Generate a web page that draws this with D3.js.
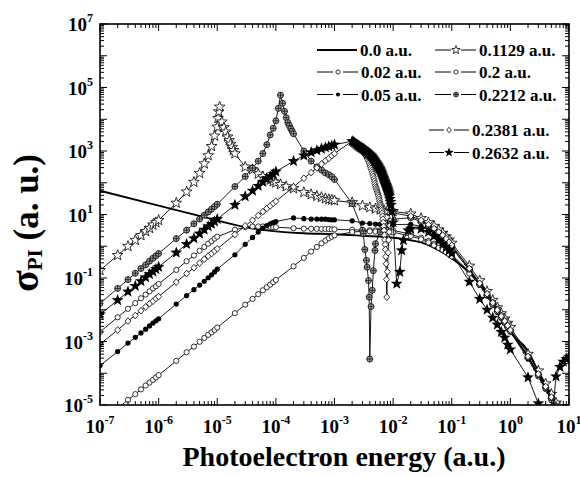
<!DOCTYPE html>
<html><head><meta charset="utf-8">
<script src="https://cdn.jsdelivr.net/npm/d3@7"></script>
<style>body{margin:0;background:#fff}</style>
</head><body>
<svg id="chart" width="580" height="477"></svg>
<script>
// ---------------- DATA ----------------
const xTickExps = [-7,-6,-5,-4,-3,-2,-1,0,1];
const yTickExps = [-5,-3,-1,1,3,5,7];
const legendLabels = ["0.0 a.u.","0.02 a.u.","0.05 a.u.","0.1129 a.u.","0.2 a.u.","0.2212 a.u.","0.2381 a.u.","0.2632 a.u."];

const energyGrid = [
 1e-7,2e-7,3e-7,4e-7,5e-7,6e-7,7e-7,8e-7,9e-7,
 1e-6,2e-6,3e-6,4e-6,5e-6,6e-6,7e-6,8e-6,9e-6,
 1e-5,2e-5,3e-5,4e-5,5e-5,6e-5,7e-5,8e-5,9e-5,
 1e-4,2e-4,3e-4,4e-4,5e-4,6e-4,7e-4,8e-4,9e-4,
 1e-3,2e-3,3e-3,4e-3,5e-3,6e-3,7e-3,8e-3,9e-3,
 1e-2,2e-2,3e-2,4e-2,5e-2,6e-2,7e-2,8e-2,9e-2,
 0.1,0.2,0.3,0.4,0.5,0.6,0.7,0.8,0.9,
 1,2,3,4,5,6,7,8,9,10];

// 0.0 a.u. (solid line, no symbols)
const energy_000 = [1e-7,1e-6,1e-5,3e-5,1e-4,3e-4,1e-3,3e-3,1e-2,2e-2,3e-2,5e-2,0.1,0.2,0.3,0.5,0.7,1,2,3,5,7];
const sigma_000  = [56,19,6.5,4.0,2.95,2.57,2.4,2.14,1.86,1.55,1.32,0.89,0.42,0.148,0.068,0.0178,6.3e-3,2.0e-3,5.0e-4,1.12e-4,2.0e-5,6.3e-6];

// values on energyGrid (null = no point)
const sigma_002 = [
 2.0e-3,5.8e-3,1.07e-2,1.62e-2,2.3e-2,3.0e-2,3.8e-2,4.7e-2,5.5e-2,
 0.065,0.18,0.34,0.51,0.72,0.95,1.2,1.45,1.74,
 2.0,3.3,4.0,4.2,4.2,4.2,4.1,4.1,4.0,
 4.0,3.7,3.6,3.55,3.55,3.5,3.5,3.5,3.4,
 3.4,3.3,3.2,3.2,3.16,3.16,3.16,3.16,3.16,
 3.16,2.4,1.86,1.48,1.2,1.0,0.85,0.72,0.63,
 0.54,0.158,0.068,0.035,0.019,0.012,7.6e-3,5.0e-3,3.4e-3,
 2.4e-3,3.5e-4,8.9e-5,3.5e-5,1.58e-5,7.9e-6,null,null,null,null];

const sigma_005 = [
 1.74e-4,4.8e-4,8.9e-4,1.35e-3,1.86e-3,2.45e-3,3.1e-3,3.8e-3,4.5e-3,
 5.2e-3,0.0151,0.028,0.043,0.06,0.079,0.102,0.126,0.155,
 0.19,0.54,1.15,1.9,2.8,3.7,4.5,5.1,5.6,
 6.0,7.8,7.4,7.2,7.2,7.1,7.1,6.9,6.8,
 6.8,6.3,5.4,5.2,5.0,4.9,4.8,4.7,4.7,
 4.8,4.9,4.2,3.3,2.6,2.1,1.66,1.35,1.12,
 0.89,0.178,0.059,0.027,0.0141,8.3e-3,5.4e-3,3.7e-3,2.7e-3,
 2.0e-3,2.8e-4,7.9e-5,3.2e-5,1.41e-5,6.3e-6,null,null,null,null];

const sigma_01129 = [
 0.174,0.52,1.0,1.55,2.2,2.95,3.7,4.7,5.6,
 6.6,23,52,105,200,400,720,1410,3000,
 5750,830,316,263,190,158,138,123,110,
 100,66,50,43,38,35,32,30,29,
 27.5,24,19,16.6,15.1,14.1,13.5,13.2,12.9,
 12.6,10.5,7.6,5.6,4.3,3.3,2.6,2.0,1.58,
 1.26,0.24,0.083,0.038,0.02,0.0117,7.6e-3,5.2e-3,3.8e-3,
 2.8e-3,4.0e-4,1.2e-4,4.7e-5,2.2e-5,1.17e-5,6.3e-6,null,null,null];
const extraE_01129 = [1.03e-5,1.06e-5,1.1e-5,1.2e-5,1.3e-5,1.4e-5,1.5e-5,1.6e-5,1.7e-5,1.8e-5,1.9e-5,1.2e-4,1.5e-4];
const extraS_01129 = [10700,17400,24500,8300,5500,4000,2800,2140,1660,1320,1050,89,76];

const sigma_02 = [
 null,7.8e-6,1.45e-5,2.2e-5,3.1e-5,4.1e-5,5.1e-5,6.2e-5,7.4e-5,
 8.7e-5,2.45e-4,4.6e-4,6.9e-4,9.8e-4,1.29e-3,1.62e-3,1.95e-3,2.3e-3,
 2.75e-3,7.8e-3,1.45e-2,2.2e-2,3.1e-2,4.1e-2,5.1e-2,6.2e-2,7.4e-2,
 0.087,0.234,0.43,0.68,0.95,1.23,1.51,1.78,2.0,
 2.2,2.8,2.95,2.95,2.9,2.9,2.9,2.8,2.8,
 2.75,2.1,1.66,1.32,1.07,0.89,0.76,0.65,0.56,
 0.48,0.138,0.06,0.032,0.0174,0.0107,6.8e-3,4.5e-3,3.0e-3,
 2.1e-3,3.2e-4,7.9e-5,3.2e-5,1.41e-5,7.1e-6,null,null,null,null];

const sigma_02212 = [
 0.0158,0.047,0.089,0.141,0.2,0.26,0.34,0.42,0.5,
 0.59,1.74,3.2,5.1,7.2,9.5,12,14.8,17.8,
 21,76,158,290,480,830,1580,3200,5200,
 8900,3500,1000,480,316,250,204,178,155,
 126,22,3.2,2.8e-4,1.2,2.8,4.2,5.4,6.3,
 7.1,7.9,5.9,4.4,3.3,2.6,2.0,1.58,1.26,
 1.0,0.19,0.063,0.029,0.015,8.9e-3,5.8e-3,4.0e-3,2.9e-3,
 2.1e-3,3.2e-4,8.9e-5,3.5e-5,1.66e-5,8.9e-6,5e-6,null,null,null];
const extraE_02212 = [1.1e-4,1.2e-4,1.3e-4,1.4e-4,1.5e-4,1.6e-4,1.7e-4,1.8e-4,1.9e-4,3.1e-3,3.3e-3,3.5e-3,3.6e-3,3.8e-3,3.9e-3,4.2e-3,4.4e-3,4.6e-3,4.9e-3];
const extraS_02212 = [22000,57500,32000,17800,11200,7900,6300,5000,4200,2.5,0.79,0.36,0.22,0.083,0.025,0.0126,0.041,0.17,0.74];

const sigma_02381 = [
 8.3e-4,2.3e-3,4.4e-3,6.6e-3,9.3e-3,0.0123,0.0155,0.0186,0.0224,
 0.026,0.074,0.138,0.21,0.295,0.39,0.49,0.59,0.71,
 0.83,2.35,4.4,6.6,9.3,12.3,15.5,18.6,22.4,
 26,74,138,209,295,390,490,590,710,
 830,2040,1000,363,81,22.4,3.16,0.158,6.3,
 11.2,8.9,6.6,4.8,3.6,2.8,2.24,1.74,1.35,
 1.07,0.2,0.068,0.032,0.0166,9.8e-3,6.3e-3,4.4e-3,3.2e-3,
 2.3e-3,3.4e-4,9.5e-5,3.8e-5,1.78e-5,9.5e-6,5e-6,null,null,null];
const extraE_02381 = [
 2.1e-3,2.2e-3,2.3e-3,2.4e-3,2.5e-3,2.6e-3,2.7e-3,2.8e-3,2.9e-3,3.1e-3,3.2e-3,3.3e-3,3.4e-3,3.5e-3,3.6e-3,3.7e-3,3.8e-3,3.9e-3,
 4.1e-3,4.2e-3,4.3e-3,4.4e-3,4.5e-3,4.6e-3,4.7e-3,4.8e-3,4.9e-3,5.1e-3,5.2e-3,5.3e-3,5.4e-3,5.5e-3,5.6e-3,5.7e-3,5.8e-3,5.9e-3,
 6.1e-3,6.2e-3,6.3e-3,6.4e-3,6.5e-3,6.6e-3,6.7e-3,6.8e-3,6.9e-3,7.1e-3,7.2e-3,7.3e-3,7.4e-3,7.5e-3,7.6e-3,7.7e-3,7.8e-3,
 8.2e-3,8.4e-3,8.6e-3,8.8e-3,9.5e-3];
const extraS_02381 = [
 1930,1820,1690,1550,1440,1320,1250,1175,1090,920,850,785,720,660,600,540,480,420,
 320,282,245,214,185,158,133,112,95,71,63,56,50,45,40,35,30,26,
 19.8,17.4,15.1,13.2,11,8.9,7.1,5.6,4.2,2.24,1.58,1.12,0.79,0.47,0.28,0.09,0.025,
 0.63,1.58,2.8,4.5,8.9];

const sigma_02632 = [
 7.1e-3,0.02,0.037,0.056,0.079,0.105,0.132,0.158,0.19,
 0.224,0.63,1.17,1.78,2.5,3.3,4.2,5.0,6.0,
 7.1,20,37,56,79,105,132,158,190,
 224,480,720,910,1050,1175,1290,1380,1480,
 1580,2040,1200,780,457,257,120,63,25,
 5.6,3.55,3.55,2.8,2.1,1.58,1.2,0.93,0.74,
 0.6,0.076,0.022,0.01,5.6e-3,3.4e-3,2.0e-3,1.32e-3,7.9e-4,
 5.6e-4,7.4e-5,1.12e-5,1e-6,2e-6,7.9e-5,1.58e-4,2.3e-4,2.8e-4,3.2e-4];
const extraE_02632 = [
 2.1e-3,2.2e-3,2.3e-3,2.4e-3,2.5e-3,2.6e-3,2.7e-3,2.8e-3,2.9e-3,3.1e-3,3.2e-3,3.3e-3,3.4e-3,3.5e-3,3.6e-3,3.7e-3,3.8e-3,3.9e-3,
 4.1e-3,4.2e-3,4.3e-3,4.4e-3,4.5e-3,4.6e-3,4.7e-3,4.8e-3,4.9e-3,5.1e-3,5.2e-3,5.3e-3,5.4e-3,5.5e-3,5.6e-3,5.7e-3,5.8e-3,5.9e-3,
 6.1e-3,6.2e-3,6.3e-3,6.4e-3,6.5e-3,6.6e-3,6.7e-3,6.8e-3,6.9e-3,7.1e-3,7.2e-3,7.3e-3,7.4e-3,7.5e-3,7.6e-3,7.7e-3,7.8e-3,7.9e-3,
 8.1e-3,8.2e-3,8.3e-3,8.4e-3,8.5e-3,8.6e-3,8.8e-3,9.2e-3,9.5e-3,1.15e-2,1.3e-2,1.4e-2,1.5e-2,1.8e-2];
const extraS_02632 = [
 1930,1820,1700,1580,1500,1410,1350,1290,1240,1160,1120,1070,1020,980,930,890,850,815,
 745,710,680,650,610,575,540,510,480,430,407,385,363,343,324,305,288,272,
 240,224,209,195,180,166,153,141,130,112,105,98,91,86,81,76,72,67,
 58,54,50,46,42,38,31,20,12.6,0.066,0.155,0.74,1.55,3.16];

// ---------------- CHART ----------------
const FONT = "'Liberation Serif','Times New Roman',serif";
const plot = {left:100, right:569, top:24, bottom:405};
const svg = d3.select("#chart");
const x = d3.scaleLog().domain([1e-7,10]).range([plot.left, plot.right]);
const y = d3.scaleLog().domain([1e-5,1e7]).range([plot.bottom, plot.top]);

svg.append("defs").append("clipPath").attr("id","clip")
  .append("rect").attr("x",plot.left).attr("y",plot.top)
  .attr("width",plot.right-plot.left).attr("height",plot.bottom-plot.top);

function combine(vals, eE, eS){
  let pts = energyGrid.map((e,i)=>[e, vals[i]]).filter(d=>d[1]!=null);
  if (eE) pts = pts.concat(eE.map((e,i)=>[e, eS[i]]));
  return pts.sort((a,b)=>a[0]-b[0]);
}
function starPath(R, r){
  const p=[];
  for(let i=0;i<10;i++){const a=-Math.PI/2+i*Math.PI/5;const rad=i%2?r:R;p.push([(rad*Math.cos(a)).toFixed(2),(rad*Math.sin(a)).toFixed(2)]);}
  return "M"+p.map(d=>d.join(",")).join("L")+"Z";
}
function drawMarker(g, type, cx, cy, scale){
  const s = scale||1;
  const t = `translate(${cx},${cy})`;
  if (type==="circleOpen") g.append("circle").attr("cx",cx).attr("cy",cy).attr("r",2.6*s).attr("fill","#fff").attr("stroke","#000").attr("stroke-width",0.8);
  else if (type==="circleFilled") g.append("circle").attr("cx",cx).attr("cy",cy).attr("r",2.6*s).attr("fill","#000");
  else if (type==="starOpen") g.append("path").attr("transform",t).attr("d",starPath(5.6*s,2.35*s)).attr("fill","#fff").attr("stroke","#000").attr("stroke-width",0.8);
  else if (type==="starFilled") g.append("path").attr("transform",t).attr("d",starPath(6.2*s,2.6*s)).attr("fill","#000");
  else if (type==="diamondOpen") g.append("path").attr("transform",t).attr("d",`M0,${-3.4*s}L${3*s},0L0,${3.4*s}L${-3*s},0Z`).attr("fill","#fff").attr("stroke","#000").attr("stroke-width",0.8);
  else if (type==="circlePlus"){
    const gg=g.append("g").attr("transform",t);
    gg.append("circle").attr("r",3*s).attr("fill","#a8a8a8").attr("stroke","#000").attr("stroke-width",0.8);
    gg.append("path").attr("d",`M${-3*s},0H${3*s}M0,${-3*s}V${3*s}`).attr("stroke","#000").attr("stroke-width",0.7);
  }
}

const series = [
  {label:legendLabels[1], pts:combine(sigma_002), marker:"circleOpen"},
  {label:legendLabels[2], pts:combine(sigma_005), marker:"circleFilled"},
  {label:legendLabels[3], pts:combine(sigma_01129, extraE_01129, extraS_01129), marker:"starOpen"},
  {label:legendLabels[4], pts:combine(sigma_02), marker:"circleOpen"},
  {label:legendLabels[5], pts:combine(sigma_02212, extraE_02212, extraS_02212), marker:"circlePlus"},
  {label:legendLabels[6], pts:combine(sigma_02381, extraE_02381, extraS_02381), marker:"diamondOpen"},
  {label:legendLabels[7], pts:combine(sigma_02632, extraE_02632, extraS_02632), marker:"starFilled"}
];

const plotG = svg.append("g").attr("clip-path","url(#clip)");
const line = d3.line().x(d=>x(d[0])).y(d=>y(d[1]));

// solid 0.0 line
plotG.append("path").datum(energy_000.map((e,i)=>[e,sigma_000[i]]))
  .attr("d", d3.line().x(d=>x(d[0])).y(d=>y(d[1])).curve(d3.curveMonotoneX))
  .attr("fill","none").attr("stroke","#000").attr("stroke-width",1.9);

series.forEach(s=>{
  const g = plotG.append("g");
  g.append("path").datum(s.pts).attr("d",line).attr("fill","none").attr("stroke","#000").attr("stroke-width",0.9);
  s.pts.forEach(d=>drawMarker(g, s.marker, x(d[0]), y(d[1])));
});

// frame
svg.append("rect").attr("x",plot.left).attr("y",plot.top)
  .attr("width",plot.right-plot.left).attr("height",plot.bottom-plot.top)
  .attr("fill","none").attr("stroke","#000").attr("stroke-width",1.6);

// ticks
const tg = svg.append("g").attr("stroke","#000").attr("stroke-width",1);
function decadesTicks(exps){
  const major=[], minor=[];
  exps.forEach((e,i)=>{ major.push(Math.pow(10,e)); if(i<exps.length-1) for(let m=2;m<=9;m++) minor.push(m*Math.pow(10,e)); });
  return {major, minor};
}
const xt = decadesTicks(xTickExps);
const yt = decadesTicks(d3.range(-5,8));
const MJ=7, MN=4;
xt.major.forEach(v=>{const px=x(v);
  tg.append("line").attr("x1",px).attr("x2",px).attr("y1",plot.bottom).attr("y2",plot.bottom-MJ);
  tg.append("line").attr("x1",px).attr("x2",px).attr("y1",plot.top).attr("y2",plot.top+MJ);});
xt.minor.forEach(v=>{const px=x(v);
  tg.append("line").attr("x1",px).attr("x2",px).attr("y1",plot.bottom).attr("y2",plot.bottom-MN);
  tg.append("line").attr("x1",px).attr("x2",px).attr("y1",plot.top).attr("y2",plot.top+MN);});
yt.major.forEach(v=>{const py=y(v);
  tg.append("line").attr("y1",py).attr("y2",py).attr("x1",plot.left).attr("x2",plot.left+MJ);
  tg.append("line").attr("y1",py).attr("y2",py).attr("x1",plot.right).attr("x2",plot.right-MJ);});
yt.minor.forEach(v=>{const py=y(v);
  tg.append("line").attr("y1",py).attr("y2",py).attr("x1",plot.left).attr("x2",plot.left+MN);
  tg.append("line").attr("y1",py).attr("y2",py).attr("x1",plot.right).attr("x2",plot.right-MN);});

// tick labels
const lg = svg.append("g").attr("font-family",FONT).attr("font-weight","bold").attr("fill","#000");
xTickExps.forEach(e=>{
  const t = lg.append("text").attr("x",x(Math.pow(10,e))).attr("y",433).attr("text-anchor","middle").attr("font-size",19);
  t.append("tspan").text("10");
  t.append("tspan").attr("dy",-9).attr("font-size",12).text(String(e));
});
yTickExps.forEach(e=>{
  const t = lg.append("text").attr("x",93).attr("y",y(Math.pow(10,e))+7).attr("text-anchor","end").attr("font-size",19);
  t.append("tspan").text("10");
  t.append("tspan").attr("dy",-9).attr("font-size",12).text(String(e));
});

// axis titles
lg.append("text").attr("x",344).attr("y",466).attr("text-anchor","middle").attr("font-size",28).text("Photoelectron energy (a.u.)");
const yt2 = lg.append("text").attr("transform","translate(38,223) rotate(-90)").attr("text-anchor","middle").attr("font-size",35);
yt2.append("tspan").attr("font-size",40).text("σ");
yt2.append("tspan").attr("font-size",21).attr("dy",4).text("PI");
yt2.append("tspan").attr("dy",-4).text(" (a. u.)");

// legend
const legend = svg.append("g");
const legItems = [
  {lab:legendLabels[0], m:null, x0:317, x1:357, mx:0, tx:360, cy:50},
  {lab:legendLabels[1], m:"circleOpen", x0:317, x1:358, mx:338, tx:361, cy:72},
  {lab:legendLabels[2], m:"circleFilled", x0:317, x1:358, mx:338, tx:361, cy:94.5},
  {lab:legendLabels[3], m:"starOpen", x0:435, x1:476, mx:456, tx:479, cy:50},
  {lab:legendLabels[4], m:"circleOpen", x0:435, x1:476, mx:456, tx:479, cy:72},
  {lab:legendLabels[5], m:"circlePlus", x0:435, x1:476, mx:456, tx:479, cy:94.5},
  {lab:legendLabels[6], m:"diamondOpen", x0:429, x1:469, mx:449, tx:472, cy:130},
  {lab:legendLabels[7], m:"starFilled", x0:429, x1:469, mx:449, tx:472, cy:152.5}
];
legItems.forEach(it=>{
  if(!it.m){
    legend.append("line").attr("x1",it.x0).attr("x2",it.x1).attr("y1",it.cy).attr("y2",it.cy).attr("stroke","#000").attr("stroke-width",1.9);
  } else {
    legend.append("line").attr("x1",it.x0).attr("x2",it.mx-5).attr("y1",it.cy).attr("y2",it.cy).attr("stroke","#000").attr("stroke-width",1);
    legend.append("line").attr("x1",it.mx+5).attr("x2",it.x1).attr("y1",it.cy).attr("y2",it.cy).attr("stroke","#000").attr("stroke-width",1);
    drawMarker(legend, it.m, it.mx, it.cy, 0.8);
  }
  legend.append("text").attr("x",it.tx).attr("y",it.cy+6).attr("font-family",FONT).attr("font-weight","bold").attr("font-size",17).text(it.lab);
});
</script>
</body></html>
